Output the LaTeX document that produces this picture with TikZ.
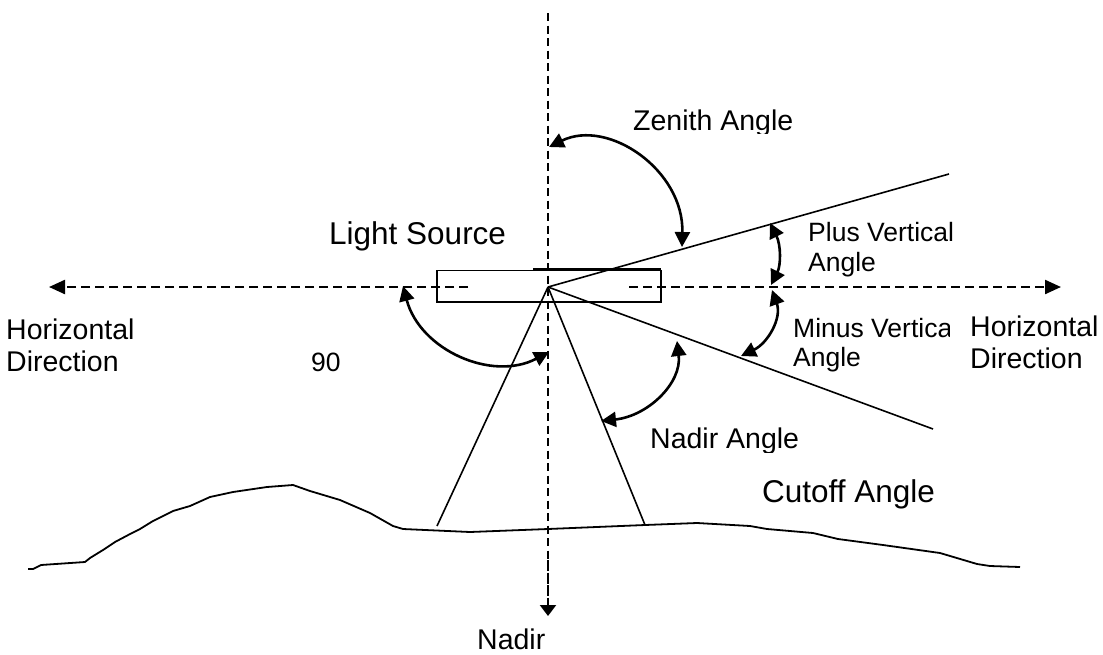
\documentclass[tikz,border=0pt]{standalone}
\usepackage{fontspec}
\setmainfont{Liberation Sans}
\usetikzlibrary{arrows.meta}
\tikzset{
  thinline/.style={line width=1.6pt, line cap=butt},
  arcline/.style={line width=2.6pt, {Triangle[length=15pt,width=15pt]}-{Triangle[length=15pt,width=15pt]}},
  hdash/.style={line width=2.3pt, dash pattern=on 9pt off 5pt, -{Triangle[length=16pt,width=14pt]}},
  vdash/.style={line width=2.3pt, dash pattern=on 8pt off 4.5pt},
  lbl/.style={inner sep=0pt, anchor=base west},
  bigA/.style={lbl, font=\fontsize{31.5}{36}\selectfont},
  bigB/.style={lbl, font=\fontsize{28.5}{33}\selectfont},
  smallT/.style={lbl, font=\fontsize{26.5}{31}\selectfont},
}
\begin{document}
\begin{tikzpicture}[x=1pt,y=-1pt]
\useasboundingbox (0,0) rectangle (1103,654);
% key points
\coordinate (apex) at (548,287);
\coordinate (ztop) at (548,13);
\coordinate (zbot) at (548,616);
\coordinate (hlstart) at (468,287);
\coordinate (hlend) at (49,287);
\coordinate (hrstart) at (629,287);
\coordinate (hrend) at (1061,287);
\coordinate (upR) at (949,174);
\coordinate (loR) at (933,429);
\coordinate (dnL) at (437,526);
\coordinate (dnR) at (645,525);
% light source box
\draw[thinline] (437,270.5) rectangle (661,302) ;
\draw[thinline] (533,269) -- (661,269);
% dashed axes
\draw[vdash] (ztop) -- (548,604);
\draw[vdash, -{Triangle[length=11pt,width=16pt]}] (548,560) -- (zbot);
\draw[hdash] (hlstart) -- (hlend);
\draw[hdash] (hrstart) -- (hrend);
% rays
\draw[thinline] (apex) -- (upR);
\draw[thinline] (apex) -- (loR);
\draw[thinline] (apex) -- (dnL);
\draw[thinline] (apex) -- (dnR);
% terrain
\draw[line width=1.8pt, line join=round] (28,569) -- (33,569) -- (41,565) -- (85,562) -- (90,558) -- (103,550) -- (115,542) -- (132,533) -- (140,529) -- (153,521) -- (173,511) -- (190,506) -- (210,497) -- (233,492) -- (267,487) -- (293,485) -- (310,491) -- (340,500) -- (370,513) -- (393,526) -- (403,529) -- (470,532) -- (548,529) -- (645,525) -- (697,523) -- (750,526) -- (767,529) -- (813,533) -- (838,539) -- (883,545) -- (940,553) -- (977,564) -- (990,566) -- (1020,567);
% angle arcs
\coordinate (zA) at (549,147);
\coordinate (zB) at (682,247);
\draw[arcline] (zA) .. controls (608,118) and (684,170) .. (zB);
\coordinate (pA) at (770,223);
\coordinate (pB) at (771,285);
\draw[arcline] (pA) .. controls (781,245) and (781,265) .. (pB);
\coordinate (mA) at (772,290);
\coordinate (mB) at (741,356);
\draw[arcline] (mA) .. controls (782,318) and (768,343) .. (mB);
\coordinate (nA) at (677,341);
\coordinate (nB) at (601,421);
\draw[arcline] (nA) .. controls (682,383) and (648,416) .. (nB);
\coordinate (lA) at (403,286);
\coordinate (lB) at (549,352);
\draw[arcline] (lA) .. controls (420,350) and (492,382) .. (lB);
% labels
\begin{scope}
\clip (600,80) rectangle (830,133);
\node[bigB] (zenith) at (633,130) {Zenith Angle};
\end{scope}
\node[bigA] (light) at (329,244) {Light Source};
\node[smallT] (plus1) at (808,241) {Plus Vertical};
\node[smallT] (plus2) at (808,271) {Angle};
\begin{scope}
\clip (780,300) rectangle (949,345);
\node[smallT] (minus1) at (793,337) {Minus Vertica};
\end{scope}
\node[smallT] (minus2) at (793,366) {Angle};
\node[bigB] (hr1) at (970,336) {Horizontal};
\node[bigB] (hr2) at (970,368) {Direction};
\node[bigB] (hl1) at (6,339) {Horizontal};
\node[bigB] (hl2) at (6,371) {Direction};
\node[smallT] (ninety) at (311,371) {90};
\begin{scope}
\clip (640,420) rectangle (830,452);
\node[bigB] (nadirang) at (650,448) {Nadir Angle};
\end{scope}
\node[bigA] (cutoff) at (762,502) {Cutoff Angle};
\node[bigB] (nadir) at (477,649) {Nadir};
\end{tikzpicture}
\end{document}
